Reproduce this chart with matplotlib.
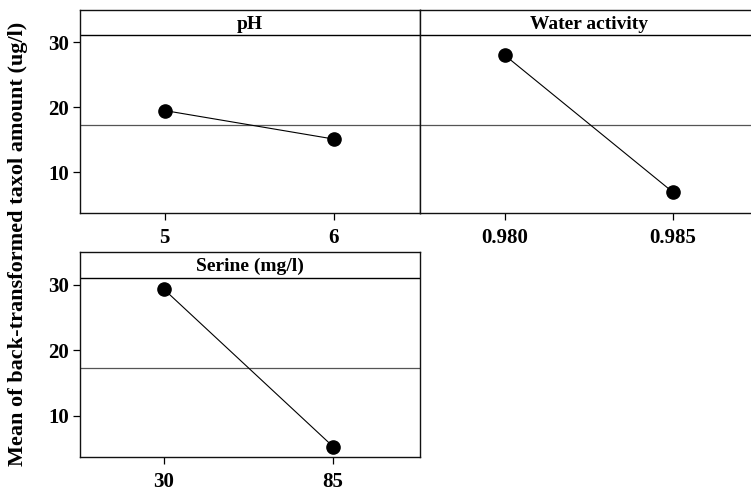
import matplotlib
matplotlib.use("Agg")
import matplotlib.pyplot as plt

# Data
factors = ["pH", "Water activity", "Serine (mg/l)"]
levels = [[5, 6], [0.980, 0.985], [30, 85]]
level_labels = [["5", "6"], ["0.980", "0.985"], ["30", "85"]]
means = [[19.5, 15.1], [28.0, 6.9], [29.3, 5.3]]
grand_mean = 17.3
yticks = [10, 20, 30]
ylabel = "Mean of back-transformed taxol amount (ug/l)"

plt.rcParams['font.family'] = ['Liberation Serif', 'DejaVu Serif']
plt.rcParams['font.weight'] = 'bold'

W, H = 751, 492
fig = plt.figure(figsize=(W / 100, H / 100), dpi=100)

def rect(l, r, t, b):
    return [l / W, (H - b) / H, (r - l) / W, (b - t) / H]

rects = [rect(80, 420, 10, 213), rect(420, 757, 10, 213), rect(80, 420, 252, 457)]
xlims = [(4.5, 6.51), (0.97747, 0.9875), (30 - 55 * 84 / 169, 85 + 55 * 87 / 169)]
ylim = (3.7, 35.0)
strip_y = 31.1

for i, (f, lv, ll, m) in enumerate(zip(factors, levels, level_labels, means)):
    ax = fig.add_axes(rects[i])
    ax.set_xlim(*xlims[i])
    ax.set_ylim(*ylim)
    ax.axhline(grand_mean, color='#555555', lw=0.9, zorder=1)
    ax.axhline(strip_y, color='black', lw=1.0, zorder=1)
    ax.plot(lv, m, color='black', lw=0.8, marker='o', markersize=9.5, zorder=3)
    ax.text(0.5, strip_y + 0.42 * (ylim[1] - strip_y), f, transform=ax.get_yaxis_transform(),
            ha='center', va='center', fontsize=14, fontweight='bold')
    ax.set_xticks(lv)
    ax.set_xticklabels(ll, fontsize=15, fontweight='bold')
    ax.tick_params(axis='x', direction='out', length=5, width=0.9, pad=6)
    for s in ax.spines.values():
        s.set_linewidth(1.0)
        s.set_color('#111111')
    if i == 1:
        ax.set_yticks([])
        ax.spines['right'].set_visible(False)
    else:
        ax.set_yticks(yticks)
        ax.set_yticklabels([str(t) for t in yticks], fontsize=15, fontweight='bold')
        ax.tick_params(axis='y', direction='out', length=5, width=0.9, pad=3)

fig.text(18 / W, 1 - 244 / H, ylabel, rotation=90, ha='center', va='center',
         fontsize=16, fontweight='bold')

fig.savefig("out.png", dpi=100)
